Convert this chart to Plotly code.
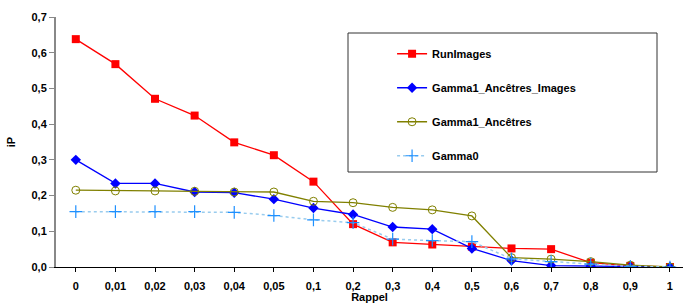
import plotly.graph_objects as go

categories = ["0", "0,01", "0,02", "0,03", "0,04", "0,05", "0,1", "0,2", "0,3", "0,4",
              "0,5", "0,6", "0,7", "0,8", "0,9", "1"]
run_images = [0.638, 0.568, 0.471, 0.424, 0.349, 0.313, 0.239, 0.120, 0.069, 0.063,
              0.057, 0.052, 0.050, 0.012, 0.003, 0.0]
gamma1_anc_images = [0.300, 0.234, 0.234, 0.210, 0.208, 0.190, 0.165, 0.147, 0.112, 0.106,
                     0.052, 0.018, 0.004, 0.002, 0.0, 0.0]
gamma1_anc = [0.215, 0.213, 0.213, 0.212, 0.210, 0.210, 0.184, 0.180, 0.167, 0.160,
              0.143, 0.026, 0.022, 0.015, 0.005, 0.0]
gamma0 = [0.155, 0.155, 0.155, 0.155, 0.153, 0.144, 0.132, 0.124, 0.078, 0.074,
          0.071, 0.023, 0.015, 0.008, 0.002, 0.0]
y_ticks = [0, 0.1, 0.2, 0.3, 0.4, 0.5, 0.6, 0.7]
y_tick_labels = ["0,0", "0,1", "0,2", "0,3", "0,4", "0,5", "0,6", "0,7"]

FONT = "Liberation Sans, Arial, sans-serif"
x = list(range(len(categories)))

fig = go.Figure()
fig.add_trace(go.Scatter(
    x=x, y=run_images, name="<b>RunImages</b>", mode="lines+markers",
    line=dict(color="#FF0000", width=1.3),
    marker=dict(symbol="square", size=8, color="#FF0000")))
fig.add_trace(go.Scatter(
    x=x, y=gamma1_anc_images, name="<b>Gamma1_Ancêtres_Images</b>", mode="lines+markers",
    line=dict(color="#0000FF", width=1.3),
    marker=dict(symbol="diamond", size=8, color="#0000FF")))
fig.add_trace(go.Scatter(
    x=x, y=gamma1_anc, name="<b>Gamma1_Ancêtres</b>", mode="lines+markers",
    line=dict(color="#808000", width=1.3),
    marker=dict(symbol="circle-open", size=8, color="#808000", line=dict(width=1))))
fig.add_trace(go.Scatter(
    x=x, y=gamma0, name="<b>Gamma0</b>", mode="lines+markers",
    line=dict(color="#99CCEE", width=1.5, dash="dot"),
    marker=dict(symbol="cross-thin", size=9, color="#1E90FF",
                line=dict(width=1.2, color="#1E90FF"))))

fig.update_layout(
    width=683, height=303,
    margin=dict(l=56, r=0, t=17, b=36),
    plot_bgcolor="white", paper_bgcolor="white",
    font=dict(family=FONT, size=11, color="black"),
    showlegend=True,
    legend=dict(x=0.536, y=0.911, xanchor="left", yanchor="top",
                bgcolor="rgba(0,0,0,0)", borderwidth=0,
                font=dict(family=FONT, size=11, color="black"),
                tracegroupgap=15, traceorder="grouped"),
    xaxis=dict(
        tickmode="array", tickvals=x, ticktext=["<b>%s</b>" % c for c in categories],
        range=[-0.5, 15.33], showgrid=False, zeroline=False, automargin=False,
        showline=True, linecolor="black", linewidth=1,
        ticks="outside", ticklen=4, tickcolor="black", ticklabelstandoff=5,
        title=dict(text="<b>Rappel</b>", standoff=0, font=dict(size=11)),
    ),
    yaxis=dict(
        tickmode="array", tickvals=y_ticks, ticktext=["<b>%s</b>" % t for t in y_tick_labels],
        range=[0, 0.7], showgrid=False, zeroline=False, automargin=False,
        showline=True, linecolor="#888888", linewidth=2,
        ticks="outside", ticklen=5, tickcolor="#888888",
        title=dict(text="<b>iP</b>", standoff=14, font=dict(size=11)),
    ),
)
for i, tr in enumerate(fig.data):
    tr.legendgroup = "g%d" % i

fig.add_shape(type="rect", xref="paper", yref="paper",
              x0=(348 - 56) / 627, x1=(657 - 56) / 627,
              y0=(267 - 172) / 250, y1=(267 - 33) / 250,
              line=dict(color="#333333", width=1), fillcolor="rgba(0,0,0,0)", layer="above")

fig.write_html("out.html", config={"displayModeBar": False},
               post_script="document.body.style.margin='0px';document.body.style.overflow='hidden';")
